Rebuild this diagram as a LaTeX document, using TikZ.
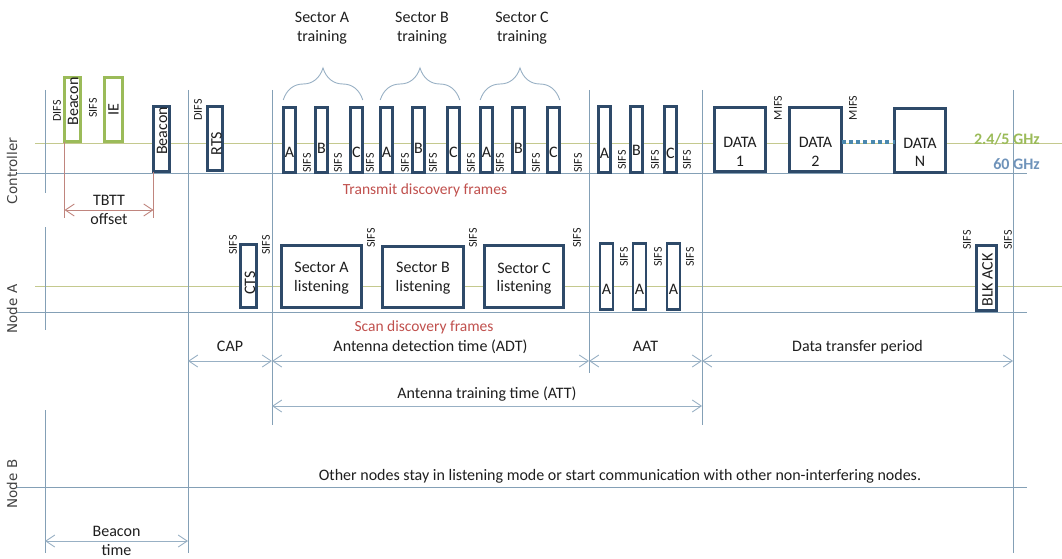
\documentclass[tikz,border=0pt]{standalone}
\usepackage{fontspec}
\setmainfont{Carlito}
\newfontfamily\rowfont{DejaVu Sans}
\usepackage{xcolor}
\usetikzlibrary{arrows.meta,positioning,decorations.pathreplacing}
\definecolor{BfNavy}{HTML}{2E4A69}
\definecolor{BfGreen}{HTML}{9BBB59}
\definecolor{BfOlive}{HTML}{C4C98E}
\definecolor{BfRule}{HTML}{84A0B6}
\definecolor{BfArrow}{HTML}{98B0C4}
\definecolor{BfRed}{HTML}{C0504D}
\definecolor{BfRose}{HTML}{C0857E}
\definecolor{BfTeal}{HTML}{4A88AE}
\definecolor{BfSky}{HTML}{6F93BA}
\definecolor{BfInk}{HTML}{1E1E1E}
\newcommand{\lblsize}{\fontsize{16}{18.5}\selectfont}
\newcommand{\gapsize}{\fontsize{12}{13}\selectfont}
\tikzset{
  slot/.style={draw=BfNavy,line width=2.6pt,fill=white,inner sep=0pt,outer sep=0pt},
  beaconslot/.style={slot,draw=BfGreen},
  lbl/.style={font=\lblsize,text=BfInk,inner sep=0pt,align=center},
  tag/.style={lbl,text height=11pt,text depth=3.5pt},
  gap/.style={font=\gapsize,text=BfInk,rotate=90,inner sep=0pt},
  rowname/.style={font=\rowfont\fontsize{13.5}{16}\selectfont,text=BfInk!85,rotate=90,inner sep=0pt},
  freqtag/.style={font=\lblsize\bfseries,inner sep=0pt,anchor=east},
  hiband/.style={draw=BfOlive,line width=1pt},
  loband/.style={draw=BfRule,line width=1pt},
  marker/.style={draw=BfRule,line width=0.9pt},
  periodarrow/.style={{Straight Barb[length=9pt,width=12pt]}-{Straight Barb[length=9pt,width=12pt]},draw=BfArrow,line width=0.9pt},
  tbttline/.style={draw=BfRose,line width=0.9pt},
  tbttarrow/.style={tbttline,{Straight Barb[length=9pt,width=12pt]}-{Straight Barb[length=9pt,width=12pt]}},
  sectorbrace/.style={draw=BfArrow,line width=0.9pt,decorate,decoration={brace,amplitude=32pt,aspect=0.5}},
  dotlink/.style={draw=BfTeal,line width=4pt,dash pattern=on 4pt off 3.3pt}
}

\begin{document}
\begin{tikzpicture}[x=1pt,y=-1pt]
\useasboundingbox (0,0) rectangle (1062,559);
% time boundaries and levels
\coordinate (tBeacon) at (45,0);
\coordinate (tCap) at (188,0);
\coordinate (tAdt) at (272,0);
\coordinate (tAat) at (589,0);
\coordinate (tData) at (702,0);
\coordinate (tEnd) at (1013,0);
\coordinate (yTop) at (0,90);
\coordinate (yCtrlEnd) at (0,193);
\coordinate (yNodeA) at (0,227);
\coordinate (yNodeAEnd) at (0,330);
\coordinate (yNodeB) at (0,410);
\coordinate (yBottom) at (0,553);
\coordinate (yAdtEnd) at (0,373);
\coordinate (yAttEnd) at (0,425);
\coordinate (yPeriod) at (0,361);
\coordinate (yAtt) at (0,406);
\coordinate (yBeaconT) at (0,541);
\coordinate (yTbtt) at (0,210);
\coordinate (yTbttEnd) at (0,218);
\coordinate (yBrace) at (0,100);

% band lines
\draw[hiband] (35,143) coordinate (hiCtrlL) -- (1062,143) coordinate (hiCtrlR);
\draw[loband] (17,173) coordinate (loCtrlL) -- (1027,173) coordinate (loCtrlR);
\draw[hiband] (35,286) coordinate (hiNodeAL) -- (1062,286) coordinate (hiNodeAR);
\draw[loband] (17,312) coordinate (loNodeAL) -- (1027,312) coordinate (loNodeAR);
\draw[loband] (17,487) coordinate (loNodeBL) -- (1027,487) coordinate (loNodeBR);

% period markers
\draw[marker] (tBeacon |- yTop) -- (tBeacon |- yCtrlEnd)
              (tBeacon |- yNodeA) -- (tBeacon |- yNodeAEnd)
              (tBeacon |- yNodeB) -- (tBeacon |- yBottom);
\draw[marker] (tCap |- yTop) -- (tCap |- yBottom);
\draw[marker] (tAdt |- yTop) -- (tAdt |- yAttEnd);
\draw[marker] (tAat |- yTop) -- (tAat |- yAdtEnd);
\draw[marker] (tData |- yTop) -- (tData |- yAttEnd);
\draw[marker] (tEnd |- yTop) -- (tEnd |- yBottom);

% row names
\node[rowname] (ctrl) at (12,171) {Controller};
\node[rowname] (nodeA) at (12,309) {Node A};
\node[rowname] (nodeB) at (12,484) {Node B};

% controller: beacon interval
\node[beaconslot,minimum width=16pt,minimum height=64pt] (gBeacon) at (72.5,109.5) {};
\node[lbl,rotate=90] (gBeacon-t) at (73,101.5) {Beacon};
\node[beaconslot,minimum width=18pt,minimum height=64pt] (gIE) at (113.5,109.5) {};
\node[lbl,rotate=90] (gIE-t) at (gIE) {IE};
\node[slot,minimum width=16pt,minimum height=65pt] (bBeacon) at (161.5,139) {};
\node[lbl,rotate=90] (bBeacon-t) at (162,131) {Beacon};
\node[slot,minimum width=15pt,minimum height=64pt] (rts) at (215,138.5) {};
\node[lbl,rotate=90] (rts-t) at (216.5,143.5) {RTS};
\node[gap] (difs1) at (57,111) {DIFS};
\node[gap] (sifs0) at (93,108) {SIFS};
\node[gap] (difs2) at (198,110) {DIFS};

% TBTT offset
\draw[tbttline] (gBeacon.south west) -- (gBeacon.south west |- yTbttEnd);
\draw[tbttline] (bBeacon.south west) -- (bBeacon.south west |- yTbttEnd);
\draw[tbttarrow] (gBeacon.south west |- yTbtt) -- node[lbl,pos=0.5] (tbtt) {TBTT\\offset} (bBeacon.south west |- yTbtt);

% controller: sector training
\foreach \g/\gx in {A/282,B/379,C/479}{
  \foreach \s/\dx/\ty in {A/0/152,B/32/148,C/67/152}{
    \node[slot,minimum width=12.5pt,minimum height=65pt] (tr\g\s) at (\gx+\dx+7.5,140) {};
    \node[lbl] (tr\g\s-t) at (\gx+\dx+7.5,\ty) {\s};
  }
  \draw[sectorbrace] (tr\g A.west |- yBrace) -- (tr\g C.east |- yBrace);
}
\node[lbl] (trainA) at (322,28) {Sector A\\training};
\node[lbl] (trainB) at (422,28) {Sector B\\training};
\node[lbl] (trainC) at (522,28) {Sector C\\training};
\foreach \x [count=\i] in {307,338,370,405,433,471,500,536,578}
  \node[gap] (trgap\i) at (\x,163) {SIFS};
\node[lbl,text=BfRed,font=\fontsize{15.5}{17}\selectfont] (txframes) at (425,190) {Transmit discovery frames};

% controller: AAT
\foreach \s/\x/\ty [count=\i] in {A/597/153,B/629/150,C/663/153}{
  \node[slot,minimum width=12.5pt,minimum height=66pt] (aat\s) at (\x+7.5,139.5) {};
  \node[lbl] (aat\s-t) at (\x+7.5,\ty) {\s};
}
\foreach \x [count=\i] in {622,655,687}
  \node[gap] (aatgap\i) at (\x,160) {SIFS};

% controller: data transfer
\node[slot,minimum width=51pt,minimum height=64pt] (data1) at (740,139.5) {};
\node[lbl] (data1-t) at (740,152) {DATA\\1};
\node[slot,minimum width=52pt,minimum height=64pt] (data2) at (815.5,139.5) {};
\node[lbl] (data2-t) at (815.5,152) {DATA\\2};
\node[slot,minimum width=51pt,minimum height=64pt] (dataN) at (920,140.5) {};
\node[lbl] (dataN-t) at (920,152.5) {DATA\\N};
\draw[dotlink] ([yshift=-2pt]data2.east) -- ([yshift=-2pt]data2.east -| dataN.west);
\node[gap] (mifs1) at (778,108) {MIFS};
\node[gap] (mifs2) at (853,108) {MIFS};
\node[freqtag,text=BfGreen] (band24) at (1040,139) {2.4/5 GHz};
\node[freqtag,text=BfSky] (band60) at (1040,164) {60 GHz};

% node A
\node[slot,minimum width=16pt,minimum height=63pt] (cts) at (248.5,276) {};
\node[lbl,rotate=90] (cts-t) at (250,283) {CTS};
\node[slot,minimum width=80pt,minimum height=62pt] (listA) at (321.5,276.5) {};
\node[lbl] (listA-t) at (321.5,278) {Sector A\\listening};
\node[slot,minimum width=81pt,minimum height=61pt] (listB) at (423,277) {};
\node[lbl] (listB-t) at (423,278) {Sector B\\listening};
\node[slot,minimum width=79pt,minimum height=62pt] (listC) at (524,276.5) {};
\node[lbl] (listC-t) at (524,278.5) {Sector C\\listening};
\foreach \x [count=\i] in {599,632,666}{
  \node[slot,minimum width=13pt,minimum height=66pt] (ack\i) at (\x+7.5,276.5) {};
  \node[lbl] (ack\i-t) at (\x+7.5,289) {A};
}
\node[slot,minimum width=20pt,minimum height=65pt] (blkack) at (986.5,278) {};
\node[lbl,rotate=90] (blkack-t) at (987.5,280) {BLK ACK};
\foreach \x/\y [count=\i] in {233/245,266/245,371/238,473/238,577/238,624/257,658/257,690/257,967/240,1008/240}
  \node[gap] (agap\i) at (\x,\y) {SIFS};
\node[lbl,text=BfRed,font=\fontsize{15.5}{17}\selectfont] (scanframes) at (424,327) {Scan discovery frames};

% periods
\draw[periodarrow] (tCap |- yPeriod) -- node[tag,yshift=13pt] (cap) {CAP} (tAdt |- yPeriod);
\draw[periodarrow] (tAdt |- yPeriod) -- node[tag,yshift=13pt] (adt) {Antenna detection time (ADT)} (tAat |- yPeriod);
\draw[periodarrow] (tAat |- yPeriod) -- node[tag,yshift=13pt] (aat) {AAT} (tData |- yPeriod);
\draw[periodarrow] (tData |- yPeriod) -- node[tag,yshift=13pt] (dtp) {Data transfer period} (tEnd |- yPeriod);
\draw[periodarrow] (tAdt |- yAtt) -- node[tag,yshift=11pt] (att) {Antenna training time (ATT)} (tData |- yAtt);
\draw[periodarrow] (tBeacon |- yBeaconT) -- node[lbl] (bcnt) {Beacon\\time} (tCap |- yBeaconT);

% node B
\node[lbl] (others) at (620,476) {Other nodes stay in listening mode or start communication with other non-interfering nodes.};
\end{tikzpicture}
\end{document}
